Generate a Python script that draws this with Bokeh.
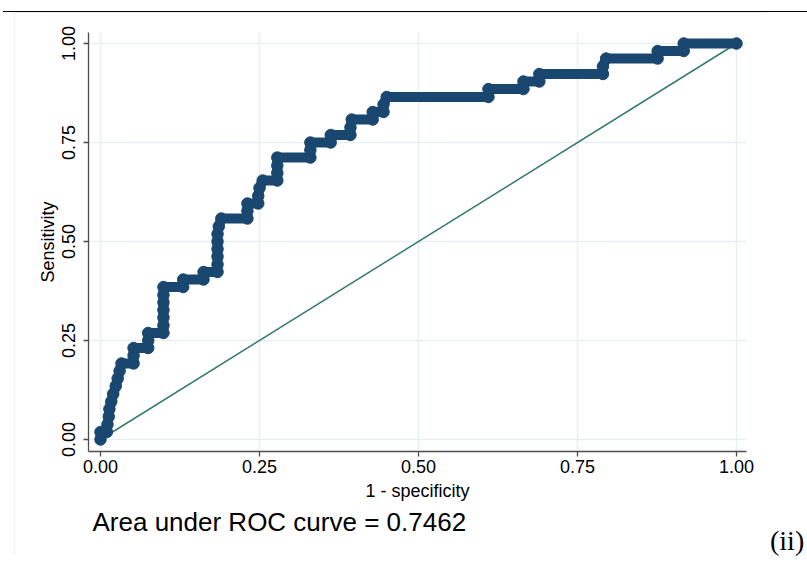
from bokeh.plotting import figure
from bokeh.models import Title, FixedTicker, Range1d, Div, Spacer
from bokeh.layouts import column, row
from bokeh.embed import file_html
from bokeh.resources import INLINE

# ROC curve points (1 - specificity, sensitivity)
fpr = [0.000, 0.000, 0.010, 0.011, 0.013, 0.014, 0.017, 0.020, 0.024, 0.027,
       0.030, 0.033, 0.052, 0.052, 0.052, 0.075, 0.075, 0.075, 0.099, 0.099,
       0.099, 0.099, 0.099, 0.099, 0.099, 0.130, 0.130, 0.162, 0.162, 0.184,
       0.184, 0.184, 0.184, 0.184, 0.184, 0.186, 0.190, 0.231, 0.231, 0.231,
       0.248, 0.248, 0.250, 0.255, 0.278, 0.278, 0.278, 0.278, 0.330, 0.330,
       0.330, 0.362, 0.362, 0.393, 0.393, 0.395, 0.428, 0.428, 0.445, 0.445,
       0.450, 0.610, 0.610, 0.665, 0.665, 0.690, 0.690, 0.790, 0.790, 0.795,
       0.876, 0.876, 0.917, 0.917, 1.000]
tpr = [0.000, 0.019, 0.019, 0.038, 0.058, 0.077, 0.096, 0.115, 0.135, 0.154,
       0.173, 0.192, 0.192, 0.212, 0.231, 0.231, 0.250, 0.269, 0.269, 0.288,
       0.308, 0.327, 0.346, 0.365, 0.385, 0.385, 0.404, 0.404, 0.423, 0.423,
       0.442, 0.462, 0.481, 0.500, 0.519, 0.538, 0.558, 0.558, 0.577, 0.596,
       0.596, 0.615, 0.635, 0.654, 0.654, 0.673, 0.692, 0.712, 0.712, 0.731,
       0.750, 0.750, 0.769, 0.769, 0.788, 0.808, 0.808, 0.827, 0.827, 0.846,
       0.865, 0.865, 0.885, 0.885, 0.904, 0.904, 0.923, 0.923, 0.942, 0.962,
       0.962, 0.981, 0.981, 1.000, 1.000]

# reference (chance) line
ref_x = [0.0, 1.0]
ref_y = [0.0, 1.0]

tick_vals = [0.0, 0.25, 0.5, 0.75, 1.0]
tick_labels = ["0.00", "0.25", "0.50", "0.75", "1.00"]

auc_text = "Area under ROC curve = 0.7462"
panel_tag = "(ii)"

NAVY = "#1a476f"
REF = "#337a6b"
GRID = "#e8eff1"
AXIS = "#4d4d4d"
BOX = "#e3ebee"
FONT = "Liberation Sans"

# window geometry
TOP = 12          # strip holding the black rule
LEFT = 14         # left edge of the light graph box
FIG_W = 752       # figure (light box) width: x 14..766
FIG_H = 542       # figure (light box) height: y 12..554
# frame in window pixels: x 88..746, y 32..451
FX0, FX1, FY0, FY1 = 88, 746, 32, 451

# pixel helpers for frame ranges (window pixels)
X0, XS = 100.0, 636.0
Y0, YS = 439.0, 396.0
def px2x(px):
    return (px - X0) / XS
def py2y(py):
    return (Y0 - py) / YS

p = figure(width=FIG_W, height=FIG_H, output_backend="svg", toolbar_location=None,
           x_range=Range1d(px2x(FX0), px2x(FX1)),
           y_range=Range1d(py2y(FY1), py2y(FY0)),
           min_border_left=FX0 - LEFT, min_border_right=LEFT + FIG_W - FX1,
           min_border_top=FY0 - TOP, min_border_bottom=TOP + FIG_H - FY1,
           margin=0, styles={"outline": "1px solid " + BOX, "outline-offset": "-1px"})
p.outline_line_color = None
p.background_fill_color = "white"
p.border_fill_color = "white"

# grid
p.xgrid.ticker = FixedTicker(ticks=tick_vals)
p.ygrid.ticker = FixedTicker(ticks=tick_vals)
p.grid.grid_line_color = GRID
p.grid.grid_line_width = 1.5

# axes
for ax in (p.xaxis[0], p.yaxis[0]):
    ax.ticker = FixedTicker(ticks=tick_vals)
    ax.major_label_overrides = {v: l for v, l in zip(tick_vals, tick_labels)}
    ax.minor_tick_line_color = None
    ax.axis_line_color = AXIS
    ax.axis_line_width = 1.3
    ax.major_tick_line_color = AXIS
    ax.major_tick_line_width = 1.3
    ax.major_tick_out = 5
    ax.major_tick_in = 0
    ax.major_label_text_font = FONT
    ax.major_label_text_font_size = "18px"
    ax.major_label_text_color = "black"
    ax.axis_label_text_font = FONT
    ax.axis_label_text_font_size = "18px"
    ax.axis_label_text_font_style = "normal"
    ax.axis_label_text_color = "black"

p.xaxis.axis_label = "1 - specificity"
p.yaxis.axis_label = "Sensitivity"
p.yaxis.major_label_orientation = "vertical"
p.xaxis.major_label_standoff = 3
p.yaxis.major_label_standoff = 9
p.xaxis.axis_label_standoff = 5
p.yaxis.axis_label_standoff = 1

# reference line
p.line(ref_x, ref_y, line_color=REF, line_width=1.5)

# ROC curve: thick connected band plus markers
p.line(fpr, tpr, line_color=NAVY, line_width=10, line_join="round", line_cap="round")
p.scatter(fpr, tpr, size=11.5, marker="circle", fill_color=NAVY, line_color=NAVY)

# note text below the x axis
p.add_layout(Title(text=auc_text, align="left", offset=4, text_font=FONT,
                   text_font_size="26px", text_font_style="normal", text_color="black",
                   standoff=2), "below")

rule = Div(text="", width=804, height=TOP, margin=(0, 0, 0, 3),
           styles={"border-bottom": "1.5px solid black", "box-sizing": "border-box"})

tag = Div(text=panel_tag, width=807 - LEFT - FIG_W, height=566 - TOP, margin=0,
          styles={"font-family": "Liberation Serif", "font-size": "28px",
                  "line-height": "28px", "padding-top": "515px", "padding-left": "4px",
                  "box-sizing": "border-box", "color": "black", "white-space": "nowrap"})

layout = column(rule, row(Spacer(width=LEFT, height=10, margin=0), p, tag, spacing=0),
                spacing=0)
open("out.html", "w").write(file_html(layout, INLINE))
